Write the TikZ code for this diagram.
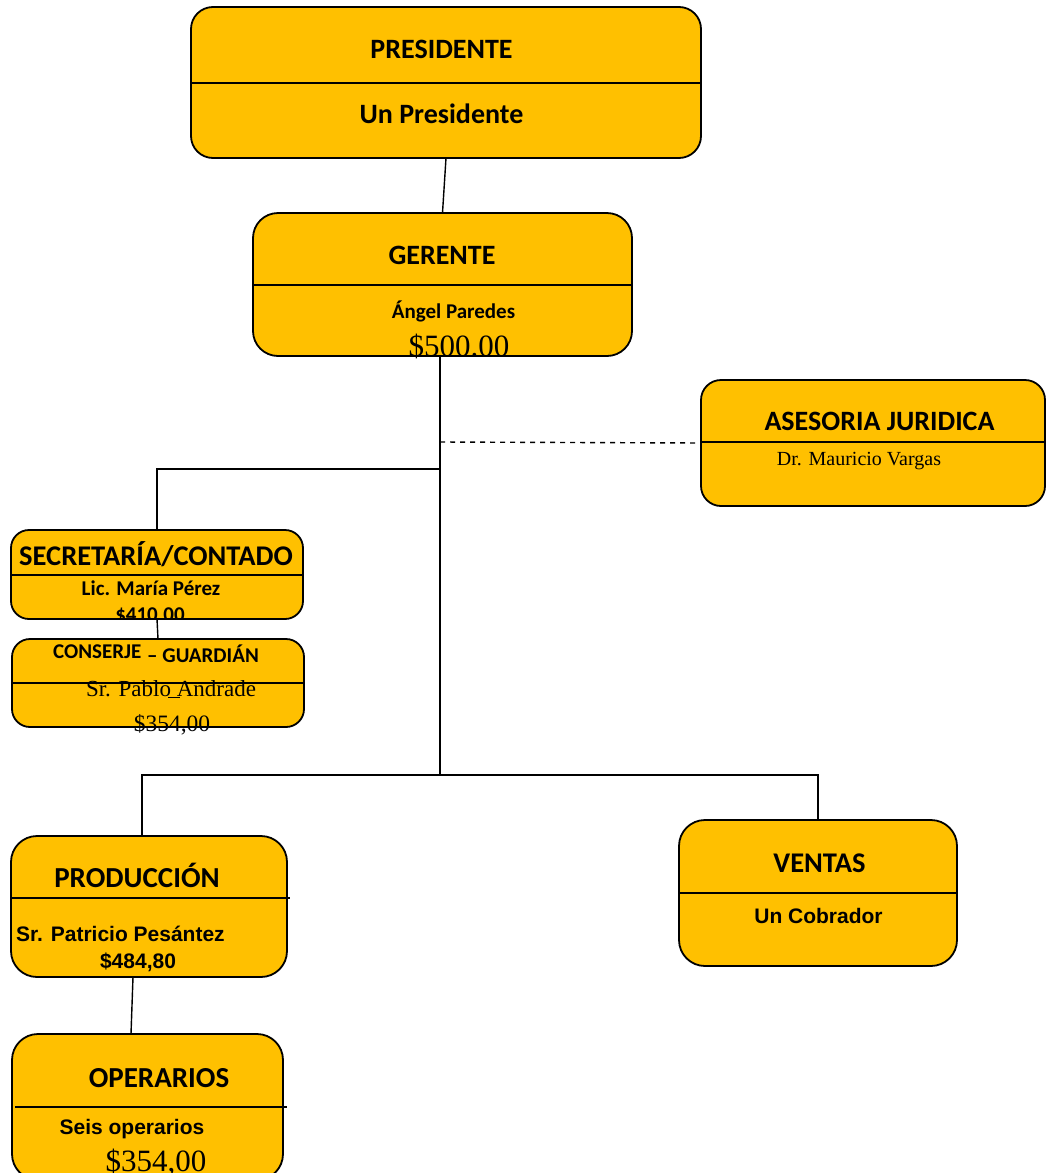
\documentclass[tikz,border=0pt]{standalone}
\usepackage{fontspec}
\setmainfont{Liberation Serif}
\newfontfamily\calfont{Carlito}
\newfontfamily\arlfont{Liberation Sans}
\usetikzlibrary{calc}
\definecolor{gold}{HTML}{FFC000}
\begin{document}
\begin{tikzpicture}[x=1pt,y=-1pt,
  unit/.style={draw=black, line width=1.8pt, fill=gold, inner sep=0pt, outer sep=0pt},
  link/.style={line width=1.4pt, black},
  divider/.style={line width=1.5pt, black},
  head/.style={anchor=base, inner sep=0pt, font=\calfont\bfseries\fontsize{28}{30}\selectfont},
  sub/.style={anchor=base, inner sep=0pt, font=\calfont\bfseries\fontsize{21}{23}\selectfont},
  subar/.style={anchor=base, inner sep=0pt, font=\arlfont\bfseries\fontsize{21}{23}\selectfont},
  serif/.style={anchor=base, inner sep=0pt, font=\fontsize{23}{25}\selectfont},
  bigserif/.style={anchor=base, inner sep=0pt, font=\fontsize{31}{33}\selectfont}]
\useasboundingbox (0,0) rectangle (1046,1173);
\clip (0,0) rectangle (1046,1173);

% --- boxes ---
\node[unit, rounded corners=22pt, minimum width=510pt, minimum height=151pt] (pres) at (446,82.5) {};
\draw[divider] (pres.west |- 0,83) -- (pres.east |- 0,83);

\node[unit, rounded corners=25pt, minimum width=379pt, minimum height=143pt] (ger) at (442.5,284.5) {};
\draw[divider] (ger.west |- 0,285) -- (ger.east |- 0,285);

\node[unit, rounded corners=20pt, minimum width=344pt, minimum height=126pt] (ase) at (873,443) {};
\draw[divider] (ase.west |- 0,442) -- (ase.east |- 0,442);

\node[unit, rounded corners=18pt, minimum width=292pt, minimum height=89pt] (sec) at (157,574.5) {};
\draw[divider] (sec.west |- 0,575) -- (sec.east |- 0,575);

\node[unit, rounded corners=18pt, minimum width=292pt, minimum height=88pt] (con) at (158,683) {};
\draw[divider] (con.west |- 0,683) -- (con.east |- 0,683);

\node[unit, rounded corners=26pt, minimum width=276pt, minimum height=141pt] (prod) at (149,906.5) {};
\draw[divider] (prod.west |- 0,898) -- (290,898);

\node[unit, rounded corners=26pt, minimum width=271pt, minimum height=146pt] (ops) at (147.5,1107) {};
\draw[divider] (15,1107) -- (287,1107);

\node[unit, rounded corners=26pt, minimum width=278pt, minimum height=146pt] (ven) at (818,893) {};
\draw[divider] (ven.west |- 0,893) -- (ven.east |- 0,893);

% --- connectors ---
\coordinate (jD) at (440,442);
\coordinate (jA) at (440,469);
\coordinate (jB) at (440,775);
\coordinate (jC) at (142,775);

\draw[link] (pres.south) -- (ger.north);
\draw[link] (ger.south -| jB) -- (jB);
\draw[link] (jA) -| (sec.north);
\draw[link, dashed, dash pattern=on 5pt off 5pt] (jD) -- (ase.west);
\draw[link] (sec.south) -- (con.north);
\draw[link] (prod.north -| jC) |- (jB) -| (ven.north);
\draw[link] ($(prod.south)+(-16,0)$) -- ($(ops.north)+(-16.5,0)$);

% --- texts ---
\node[head] (tpres) at (441.5,58) {PRESIDENTE};
\node[head] (tpres2) at (441.5,123) {Un Presidente};

\node[head] (tger) at (442,264) {GERENTE};
\node[sub] (tger2) at (453.5,318) {Ángel Paredes};
\node[bigserif] (tger3) at (459,356) {\$500.00};

\node[head] (tase) at (879.5,430) {ASESORIA JURIDICA};
\node[serif, font=\fontsize{20}{22}\selectfont] (tase2) at (859,465) {Dr. Mauricio Vargas};

\node[head, font=\calfont\bfseries\fontsize{28.5}{30}\selectfont] (tsec) at (156,565) {SECRETARÍA/CONTADO};
\node[sub] (tsec2) at (151,595) {Lic. María Pérez};
\begin{scope}
  \clip[rounded corners=18pt] (11,530) rectangle (303,619);
  \node[sub] (tsec3) at (150,621) {\$410.00};
\end{scope}

\node[sub, anchor=base west] (tcon) at (53,658) {CONSERJE};
\node[sub, anchor=base west] (tcon2) at (147,662) {– GUARDIÁN};
\node[serif] (tcon3) at (171,696) {Sr. Pablo Andrade};
\draw[line width=1.2pt] (168,697.5) -- (180,697.5);
\node[serif, font=\fontsize{23.5}{25}\selectfont] (tcon4) at (172,731) {\$354,00};

\node[head, font=\calfont\bfseries\fontsize{29}{31}\selectfont] (tprod) at (137,887) {PRODUCCIÓN};
\node[subar, anchor=base west] (tprod2) at (16,941) {Sr. Patricio Pesántez};
\node[subar] (tprod3) at (138,968) {\$484,80};

\node[head, font=\calfont\bfseries\fontsize{29}{31}\selectfont] (tops) at (159,1087) {OPERARIOS};
\node[subar] (tops2) at (132,1134) {Seis operarios};
\node[bigserif] (tops3) at (156,1171) {\$354,00};

\node[head, font=\calfont\bfseries\fontsize{28.5}{30}\selectfont] (tven) at (819.5,872) {VENTAS};
\node[subar] (tven2) at (818.5,923) {Un Cobrador};
\end{tikzpicture}
\end{document}
